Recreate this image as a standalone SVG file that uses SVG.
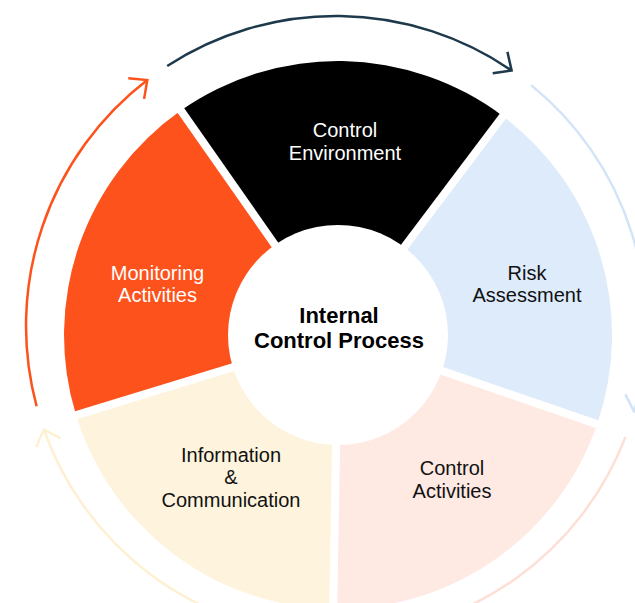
<svg xmlns="http://www.w3.org/2000/svg" width="635" height="603" viewBox="0 0 635 603">
  <style>
    .lbl { font-family: "Liberation Sans", Arial, sans-serif; font-size: 20px; text-anchor: middle; }
    .dark { fill: #111111; }
    .light { fill: #ffffff; }
    .center { font-family: "Liberation Sans", Arial, sans-serif; font-size: 22px; font-weight: 700; text-anchor: middle; fill: #000000; }
    .gap { stroke: #ffffff; stroke-width: 8; fill: none; }
    .ring { fill: none; stroke-width: 2.5; }
  </style>
  <defs>
    <marker id="ah-orange" markerUnits="userSpaceOnUse" orient="auto" markerWidth="40" markerHeight="40" refX="0" refY="0" viewBox="-20 -20 40 40" overflow="visible">
      <path d="M-14,-13 L0,0 L-14,13" fill="none" stroke="#FD521C" stroke-width="2.5"/>
    </marker>
    <marker id="ah-dark" markerUnits="userSpaceOnUse" orient="auto" markerWidth="40" markerHeight="40" refX="0" refY="0" viewBox="-20 -20 40 40" overflow="visible">
      <path d="M-14,-13 L0,0 L-14,13" fill="none" stroke="#1D3A4C" stroke-width="2.5"/>
    </marker>
    <marker id="ah-blue" markerUnits="userSpaceOnUse" orient="auto" markerWidth="40" markerHeight="40" refX="0" refY="0" viewBox="-20 -20 40 40" overflow="visible">
      <path d="M-14,-13 L0,0 L-14,13" fill="none" stroke="#D3E4F8" stroke-width="2.5"/>
    </marker>
    <marker id="ah-pink" markerUnits="userSpaceOnUse" orient="auto" markerWidth="40" markerHeight="40" refX="0" refY="0" viewBox="-20 -20 40 40" overflow="visible">
      <path d="M-14,-13 L0,0 L-14,13" fill="none" stroke="#FDDFD6" stroke-width="2.5"/>
    </marker>
    <marker id="ah-yellow" markerUnits="userSpaceOnUse" orient="auto" markerWidth="40" markerHeight="40" refX="0" refY="0" viewBox="-20 -20 40 40" overflow="visible">
      <path d="M-14,-13 L0,0 L-14,13" fill="none" stroke="#FEF0D2" stroke-width="2.5"/>
    </marker>
  </defs>
  <rect x="0" y="0" width="635" height="603" fill="#ffffff"/>

  <g id="node-control-environment">
    <path d="M338,335 L180.8,110.6 A274,274 0 0 1 502.9,116.2 Z" fill="#000000"/>
  </g>
  <g id="node-risk-assessment">
    <path d="M338,335 L502.9,116.2 A274,274 0 0 1 597.1,424.2 Z" fill="#DDEBFB"/>
  </g>
  <g id="node-control-activities">
    <path d="M338,335 L597.1,424.2 A274,274 0 0 1 333.2,609 Z" fill="#FEE9E3"/>
  </g>
  <g id="node-information-communication">
    <path d="M338,335 L333.2,609 A274,274 0 0 1 76,415.1 Z" fill="#FEF4DD"/>
  </g>
  <g id="node-monitoring-activities">
    <path d="M338,335 L76,415.1 A274,274 0 0 1 180.8,110.6 Z" fill="#FD521C"/>
  </g>

  <g id="gaps">
    <line class="gap" x1="338" y1="335" x2="171.7" y2="97.4"/>
    <line class="gap" x1="338" y1="335" x2="512.5" y2="103.4"/>
    <line class="gap" x1="338" y1="335" x2="612.2" y2="429.4"/>
    <line class="gap" x1="338" y1="335" x2="332.9" y2="625"/>
    <line class="gap" x1="338" y1="335" x2="60.7" y2="419.8"/>
  </g>

  <g id="node-center">
    <circle cx="338" cy="335" r="110" fill="#ffffff"/>
    <text class="center" x="339" y="322.7">Internal</text>
    <text class="center" x="339" y="348.3">Control Process</text>
  </g>

  <g id="labels">
    <text class="lbl light" x="345" y="136.7">Control</text>
    <text class="lbl light" x="345" y="159.5">Environment</text>
    <text class="lbl dark" x="527" y="279.5">Risk</text>
    <text class="lbl dark" x="527" y="302">Assessment</text>
    <text class="lbl dark" x="452" y="475">Control</text>
    <text class="lbl dark" x="452" y="498">Activities</text>
    <text class="lbl dark" x="231" y="461.5">Information</text>
    <text class="lbl dark" x="231" y="484">&amp;</text>
    <text class="lbl dark" x="231" y="507">Communication</text>
    <text class="lbl light" x="157.5" y="279.5">Monitoring</text>
    <text class="lbl light" x="157.5" y="302.3">Activities</text>
  </g>

  <g id="connectors">
    <path class="ring" stroke="#FD521C" d="M36.6,406.2 A310,310 0 0 1 147.3,80" marker-end="url(#ah-orange)"/>
    <path class="ring" stroke="#1D3A4C" d="M167.2,66 A310,310 0 0 1 511.6,70.5" marker-end="url(#ah-dark)"/>
    <path class="ring" stroke="#D3E4F8" d="M531.1,85.1 A310,310 0 0 1 634,411.4" marker-end="url(#ah-blue)"/>
    <path class="ring" stroke="#FDDFD6" d="M625.4,437.1 A310,310 0 0 1 344.1,635.9" marker-end="url(#ah-pink)"/>
    <path class="ring" stroke="#FEF0D2" d="M319.8,635.6 A310,310 0 0 1 43.8,429.5" marker-end="url(#ah-yellow)"/>
  </g>
</svg>
